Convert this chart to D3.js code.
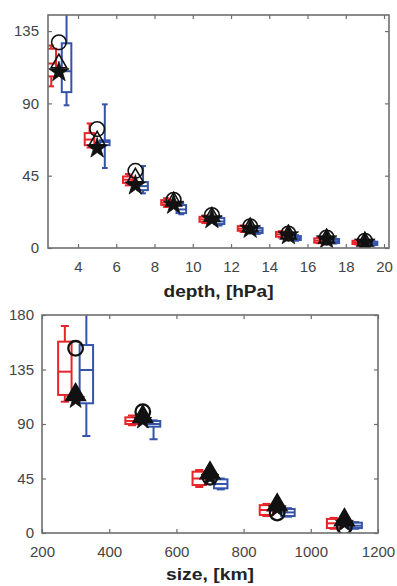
<!DOCTYPE html>
<html><head><meta charset="utf-8">
<script src="https://cdn.jsdelivr.net/npm/d3@7"></script>
<style>
html,body{margin:0;padding:0;background:#fff;}
svg{display:block;}
text{font-family:"Liberation Sans",Arial,sans-serif;}
</style></head>
<body>
<svg id="chart" width="397" height="586"></svg>
<script>
// ---------- DATA ----------
// Top panel: depth groups
const depth = [3,5,7,9,11,13,15,17,19];
const depthTicksX = [4,6,8,10,12,14,16,18,20];
const depthTicksY = [0,45,90,135];
// box stats: [lowWhisker, q1, median, q3, highWhisker]
const depthRed = [
  [100.6,106.8,114.8,124,126],
  [62.5,64,67.5,71.5,77.5],
  [39,40.5,42.5,44.5,46],
  [25.5,26.8,28.2,29.8,31],
  [15.5,16.3,17.8,19.4,20.2],
  [10,10.7,12,13.6,14],
  [6.5,7,8.5,10,10.5],
  [3,3.3,4.6,6,6.5],
  [2.2,2.5,3.5,4.5,5]
];
const depthBlue = [
  [88.8,97,110,127.4,150],
  [49.8,64,66,67,89.4],
  [34,36,38.5,41,51],
  [21,21.7,24,26.7,28],
  [14,14.9,16.5,18.6,19.5],
  [8.8,9.3,10.8,12.4,13],
  [4.5,5,6.2,7.4,8],
  [2.8,3.1,4.3,5.6,6],
  [1.5,1.9,2.9,3.9,4.3]
];
const depthCircle   = [128,74,48,30,20.5,13.5,9,6.5,4.5];
const depthTriangle = [115,67,44,29,19.5,13,8.5,6,4];
const depthStar     = [109.5,62,39,27,18,12,8,5.5,3.5];

// Bottom panel: size groups
const sizes = [300,500,700,900,1100];
const sizeTicksX = [200,400,600,800,1000,1200];
const sizeTicksY = [0,45,90,135,180];
const sizeRed = [
  [108.4,114,133.2,158,170.9],
  [89,90,92.5,95.5,97],
  [38,39.6,45,50.6,52],
  [14,14.9,19,23,24],
  [3.5,4.1,8,11.6,12.5]
];
const sizeBlue = [
  [80.1,107.1,134.6,155.2,190],
  [77.4,87.8,90,92.5,93],
  [36,36.9,40.5,44.3,45],
  [13.5,14,17,19.8,20.5],
  [3.5,4.1,6,8.5,9]
];
const sizeCircle   = [152.5,100.2,46,16.5,5];
const sizeTriangle = [114,96,49.5,23,10.7];
const sizeStar     = [110,93,46,20,8];

const RED = "#e8242b", BLUE = "#3553a8", AX = "#6e6e6e", TXT = "#444";

const svg = d3.select("#chart");

function panel(cfg){
  const g = svg.append("g");
  const x = d3.scaleLinear().domain(cfg.xDomain).range(cfg.xRange);
  const y = d3.scaleLinear().domain(cfg.yDomain).range(cfg.yRange);
  const [x0,x1] = cfg.xRange, [y0,y1] = cfg.yRange;
  const id = "clip"+cfg.name;
  svg.append("clipPath").attr("id",id).append("rect")
    .attr("x",x0).attr("y",y1).attr("width",x1-x0).attr("height",y0-y1);

  const styleAxis = sel => {
    sel.select(".domain").remove();
    sel.selectAll(".tick line").attr("stroke",AX).attr("stroke-width",1.2);
    sel.selectAll(".tick text").attr("fill",TXT).style("font-size","15px");
  };
  g.append("g").attr("transform",`translate(0,${y0})`)
    .call(d3.axisBottom(x).tickValues(cfg.xTicks).tickSizeInner(-4).tickSizeOuter(0).tickPadding(13).tickFormat(d3.format("d")))
    .call(styleAxis);
  g.append("g").attr("transform",`translate(0,${y1})`)
    .call(d3.axisTop(x).tickValues(cfg.xTicks).tickSizeInner(-4).tickSizeOuter(0).tickFormat(""))
    .call(styleAxis);
  g.append("g").attr("transform",`translate(${x0},0)`)
    .call(d3.axisLeft(y).tickValues(cfg.yTicks).tickSizeInner(-4).tickSizeOuter(0).tickPadding(cfg.yPad).tickFormat(d3.format("d")))
    .call(styleAxis);
  g.append("g").attr("transform",`translate(${x1},0)`)
    .call(d3.axisRight(y).tickValues(cfg.yTicks).tickSizeInner(-4).tickSizeOuter(0).tickFormat(""))
    .call(styleAxis);

  const plot = g.append("g").attr("clip-path",`url(#${id})`);

  function boxes(stats, color, off){
    const bw = Math.abs(x(cfg.boxW) - x(0));
    stats.forEach((s,i)=>{
      const cx = x(cfg.cats[i] + off);
      const bg = plot.append("g").attr("stroke",color).attr("stroke-width",2).attr("fill","none");
      bg.append("line").attr("x1",cx).attr("x2",cx).attr("y1",y(s[3])).attr("y2",y(s[4]));
      bg.append("line").attr("x1",cx).attr("x2",cx).attr("y1",y(s[1])).attr("y2",y(s[0]));
      bg.append("line").attr("x1",cx-bw*0.3).attr("x2",cx+bw*0.3).attr("y1",y(s[4])).attr("y2",y(s[4]));
      bg.append("line").attr("x1",cx-bw*0.3).attr("x2",cx+bw*0.3).attr("y1",y(s[0])).attr("y2",y(s[0]));
      bg.append("rect").attr("x",cx-bw/2).attr("width",bw)
        .attr("y",y(s[3])).attr("height",Math.max(0.5,y(s[1])-y(s[3])));
      bg.append("line").attr("x1",cx-bw/2).attr("x2",cx+bw/2).attr("y1",y(s[2])).attr("y2",y(s[2]));
    });
  }
  boxes(cfg.red, RED, -cfg.off);
  boxes(cfg.blue, BLUE, cfg.off);

  const mk = plot.append("g");
  cfg.cats.forEach((c,i)=>{
    mk.append("circle").attr("cx",x(c)).attr("cy",y(cfg.circle[i])).attr("r",7.3)
      .attr("fill","none").attr("stroke","#111").attr("stroke-width",cfg.circW);
  });
  cfg.cats.forEach((c,i)=>{
    mk.append("path").attr("d",d3.symbol(d3.symbolTriangle, cfg.triSize)())
      .attr("transform",`translate(${x(c)},${y(cfg.tri[i])})`)
      .attr("fill",cfg.triFill).attr("stroke","#111").attr("stroke-width",1.6);
  });
  cfg.cats.forEach((c,i)=>{
    mk.append("path").attr("d",d3.symbol(d3.symbolStar, cfg.starSize)())
      .attr("transform",`translate(${x(c)},${y(cfg.star[i])})`)
      .attr("fill","#111").attr("stroke","#111").attr("stroke-width",0.8);
  });

  g.append("rect").attr("x",x0).attr("y",y1).attr("width",x1-x0).attr("height",y0-y1)
    .attr("fill","none").attr("stroke",AX).attr("stroke-width",1.6);

  g.append("text").attr("x",(x0+x1)/2).attr("y",cfg.labelY).attr("text-anchor","middle")
    .attr("fill","#222").style("font-size","16px").style("font-weight","bold")
    .attr("textLength",cfg.labelW).attr("lengthAdjust","spacingAndGlyphs").text(cfg.label);
}

panel({
  name:"top", cats:depth,
  xDomain:[2.43,20.26], xRange:[48,389],
  yDomain:[0,145], yRange:[248,15],
  xTicks:depthTicksX, yTicks:depthTicksY, yPad:9,
  red:depthRed, blue:depthBlue, off:0.4, boxW:0.5,
  circle:depthCircle, tri:depthTriangle, star:depthStar,
  circW:1.6, triSize:105, triFill:"none", starSize:130,
  label:"depth, [hPa]", labelY:297, labelW:110
});
panel({
  name:"bot", cats:sizes,
  xDomain:[200,1200], xRange:[42,378],
  yDomain:[0,180], yRange:[533,315],
  xTicks:sizeTicksX, yTicks:sizeTicksY, yPad:8,
  red:sizeRed, blue:sizeBlue, off:32, boxW:40,
  circle:sizeCircle, tri:sizeTriangle, star:sizeStar,
  circW:2.3, triSize:165, triFill:"#111", starSize:100,
  label:"size, [km]", labelY:580, labelW:88
});
</script>
</body></html>
